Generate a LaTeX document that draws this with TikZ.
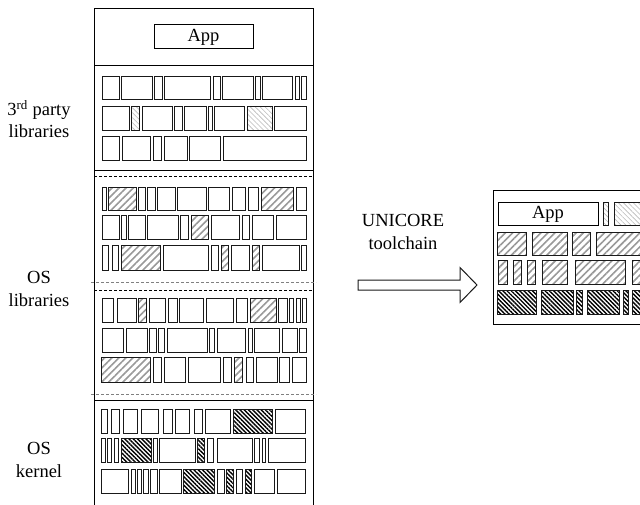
\documentclass[tikz,border=0pt]{standalone}
\usepackage{fontspec}
\setmainfont{Liberation Serif}
\usetikzlibrary{patterns.meta}
\newcommand\brow[3]{\foreach \a/\b/\s in {#3} {\draw[bx,\s] (\a,#1) rectangle (\b,#2);}}
\begin{document}
\begin{tikzpicture}[x=1pt,y=-1pt,
  bx/.style={draw=black!90,line width=1pt},
  pl/.style={},
  hl/.style={pattern={Lines[angle=-45,distance=3.5pt,line width=0.6pt]},pattern color=gray!55},
  ho/.style={pattern={Lines[angle=45,distance=5pt,line width=1.6pt]},pattern color=gray!80},
  hk/.style={pattern={Lines[angle=-45,distance=3pt,line width=1.4pt]},pattern color=black},
  lbl/.style={font=\fontsize{18.5}{22.5}\selectfont,align=center},
  sep/.style={line width=1pt},
  dsep/.style={line width=0.8pt,dashed,dash pattern=on 3pt off 2pt},
  bigarrow/.style={draw=black!90,line width=1pt,fill=white}]
\useasboundingbox (0,0) rectangle (640,505);
\clip (0,0) rectangle (640,505);
% tall stack
\draw[line width=1pt] (94,520) -- (94,9) -- (313,9) -- (313,520);
\node[draw,line width=1pt,minimum width=99pt,minimum height=24pt,inner sep=0pt,lbl] (app) at (203.5,37) {App};
\draw[sep] (94,66) -- (313,66);
\draw[sep] (94,171) -- (313,171);
\draw[dsep] (94,176) -- (313,176);
\draw[dsep,draw=gray] (91,282) -- (316,282);
\draw[dsep] (94,290) -- (313,290);
\draw[dsep,draw=gray] (91,394) -- (316,394);
\draw[sep] (94,400) -- (313,400);
% 3rd party
\brow{77}{100}{102/119/pl,121/152/pl,154/162/pl,164/210/pl,213/220/pl,222/253/pl,255/260/pl,262/292/pl,295/299/pl,301/306/pl}
\brow{107}{131}{102/129/pl,131/139/hl,142/172/pl,174/182/pl,184/206/pl,208/212/pl,214/244/pl,247/272/hl,274/306/pl}
\brow{137}{161}{102/119/pl,122/150/pl,153/161/pl,164/187/pl,189/220/pl,223/306/pl}
% OS libs 1
\brow{188}{211}{102/106/pl,108/136/ho,138/145/pl,147/155/pl,157/175/pl,177/206/pl,208/229/pl,232/245/pl,248/258/pl,261/293/ho,296/306/pl}
\brow{216}{240}{102/119/pl,121/126/pl,128/145/pl,147/178/pl,180/188/pl,191/208/ho,211/239/pl,242/249/pl,252/273/pl,276/306/pl}
\brow{246}{270}{102/108/pl,112/118/pl,121/160/ho,163/208/pl,211/218/pl,221/228/ho,231/249/pl,252/259/ho,262/299/pl,301/306/pl}
% OS libs 2
\brow{298}{322}{102/113/pl,117/136/pl,138/146/ho,149/165/pl,168/177/pl,179/203/pl,206/233/pl,236/247/pl,250/276/ho,278/287/pl,289/293/pl,296/300/pl,302/306/pl}
\brow{328}{352}{102/123/pl,126/147/pl,149/156/pl,158/164/pl,167/207/pl,209/214/pl,217/245/pl,248/252/pl,254/279/pl,282/297/pl,299/306/pl}
\brow{357}{382}{101/150/ho,153/161/pl,164/185/pl,188/220/pl,223/231/pl,234/242/ho,246/253/pl,256/277/pl,279/289/pl,292/306/pl}
% kernel
\brow{409}{433}{101/107/pl,111/119/pl,123/137/pl,141/158/pl,163/172/pl,175/189/pl,194/202/pl,205/230/pl,233/272/hk,275/305/pl}
\brow{438}{462}{101/105/pl,107/111/pl,114/118/pl,121/151/hk,153/157/pl,159/195/pl,197/204/hk,207/213/pl,217/252/pl,254/259/pl,262/265/pl,268/305/pl}
\brow{469}{493}{101/128/pl,131/135/pl,137/141/pl,143/148/pl,150/157/pl,159/181/pl,183/214/hk,217/224/pl,226/233/hk,236/242/pl,245/251/hk,254/274/pl,277/305/pl}
% labels
\node[lbl] (l3) at (39,119) {3\textsuperscript{rd} party\\libraries};
\node[lbl] (los) at (39,289) {OS\\libraries};
\node[lbl] (lk) at (39,460) {OS\\kernel};
% arrow
\node[lbl] (tc) at (403,232) {UNICORE\\toolchain};
\coordinate (atail) at (358,285);
\coordinate (atip) at (477,285);
\draw[bigarrow] ([yshift=-5pt]atail) -- ([xshift=-17pt,yshift=-5pt]atip) -- ([xshift=-17pt,yshift=-17.5pt]atip)
  -- (atip) -- ([xshift=-17pt,yshift=17.5pt]atip) -- ([xshift=-17pt,yshift=5pt]atip) -- ([yshift=5pt]atail) -- cycle;
% unikernel image
\draw[line width=1pt] (660,191) -- (493,191) -- (493,324) -- (660,324);
\node[draw,line width=1pt,minimum width=100pt,minimum height=23pt,inner sep=0pt,lbl] (app2) at (548,214.5) {App};
\brow{203}{226}{603/608/hl,614/660/hl}
\brow{233}{256}{497/526/ho,532/567/ho,572/590/ho,596/660/ho}
\brow{261}{284}{498/507/ho,513/521/ho,527/535/ho,542/567/ho,575/625/ho,632/660/ho}
\brow{290}{314}{497/536/hk,541/573/hk,576/582/hk,587/619/hk,623/628/hk,632/660/hk}
\end{tikzpicture}
\end{document}
